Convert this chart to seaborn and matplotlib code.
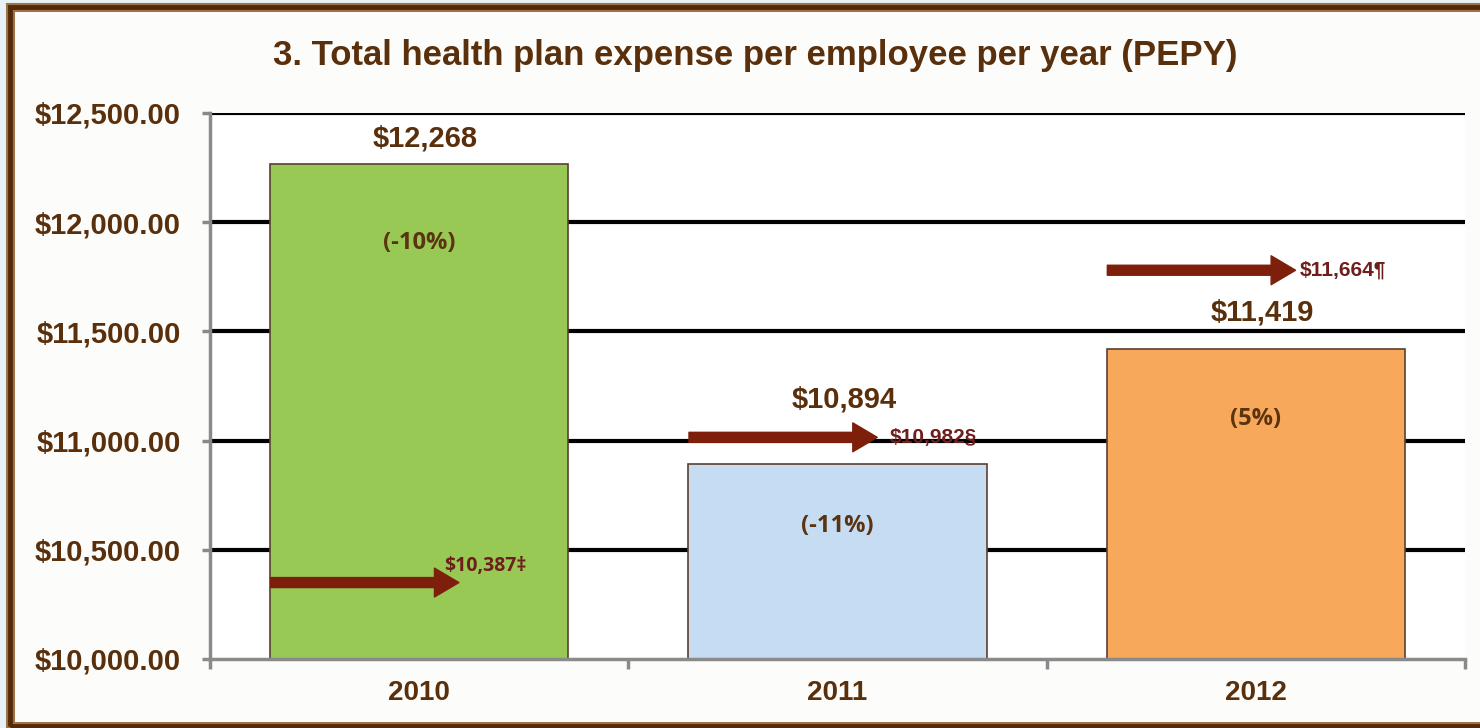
import matplotlib
matplotlib.use("Agg")
import matplotlib.pyplot as plt
from matplotlib.patches import Rectangle
import seaborn as sns
import pandas as pd

# ---------------- data ----------------
years = ["2010", "2011", "2012"]
pepy = [12268, 10894, 11419]
pct_change = ["(-10%)", "(-11%)", "(5%)"]
benchmark_labels = ["$10,387\u2021", "$10,982\u00a7", "$11,664\u00b6"]
arrow_levels = [10350, 11015, 11780]
y_ticks = [10000, 10500, 11000, 11500, 12000, 12500]

bar_colors = ["#98c954", "#c6dcf2", "#f8a85a"]
brown = "#5a2f0c"
maroon = "#6e1e1c"
arrow_col = "#7e1f0c"

df = pd.DataFrame({"year": years, "pepy": pepy})

sns.set_theme(style="white")
plt.rcParams["font.family"] = ["Liberation Sans", "DejaVu Sans"]

fig = plt.figure(figsize=(14.8, 7.28), dpi=100)
fig.patch.set_facecolor("#e6f2f6")

# outer frame
frame = Rectangle((10 / 1480, 1 - 726 / 728), 1.2, 719 / 728,
                  transform=fig.transFigure, facecolor="#fcfdfb",
                  edgecolor="#9c7246", linewidth=6.5, zorder=-2)
fig.patches.append(frame)
frame2 = Rectangle((10 / 1480, 1 - 726 / 728), 1.2, 719 / 728,
                   transform=fig.transFigure, facecolor="none",
                   edgecolor="#552a08", linewidth=3.5, zorder=-1)
fig.patches.append(frame2)

ax = fig.add_axes([210 / 1480, 1 - 659 / 728, (1465 - 210) / 1480, (659 - 113) / 728])
ax.set_zorder(1)
ax.set_facecolor("white")

sns.barplot(data=df, x="year", y="pepy", hue="year", palette=bar_colors,
            saturation=1, legend=False, width=0.713, edgecolor="#5b4030",
            linewidth=1.2, ax=ax, zorder=3)

ax.set_ylim(10000, 12500)
ax.set_xlim(-0.5, 2.5)
ax.set_yticks(y_ticks)
ax.set_yticklabels([f"${v:,.2f}" for v in y_ticks])
ax.set_xlabel("")
ax.set_ylabel("")

# grid lines
for v in y_ticks[1:]:
    ax.axhline(v, color="black", linewidth=3, zorder=1)

for s in ["top", "right"]:
    ax.spines[s].set_visible(False)
for s in ["left", "bottom"]:
    ax.spines[s].set_color("#8a8a8a")
    ax.spines[s].set_linewidth(2.5)
    ax.spines[s].set_zorder(4)

ax.tick_params(axis="y", which="major", direction="out", length=6, width=2.5,
               color="#8a8a8a", pad=15, labelsize=21, labelcolor=brown, left=True)
ax.tick_params(axis="x", which="major", length=0, pad=15, labelsize=20,
               labelcolor=brown, bottom=True)
ax.set_xticks([-0.5, 0.5, 1.5, 2.5], minor=True)
ax.tick_params(axis="x", which="minor", direction="out", length=7.5, width=2.5,
               color="#8a8a8a", bottom=True)
for lbl in ax.get_yticklabels() + ax.get_xticklabels():
    lbl.set_fontweight("bold")

# value labels
value_offsets = [18, 46, 26]
pct_offsets = [-57, -45, -50]
for i, (v, p) in enumerate(zip(pepy, pct_change)):
    ax.annotate(f"${v:,}", (i + 0.015, v), xytext=(0, value_offsets[i]),
                textcoords="offset points", ha="center", va="center",
                fontsize=21, fontweight="bold", color=brown, zorder=6)
    ax.annotate(p, (i, v), xytext=(0, pct_offsets[i]), textcoords="offset points",
                ha="center", va="center", fontsize=17, fontweight="bold",
                color="#5a3410", family=["Open Sans", "DejaVu Sans"], zorder=6)

# benchmark arrows
label_offsets = [(-11, 12), (9, 0), (3, 0)]
for i, (lv, lab) in enumerate(zip(arrow_levels, benchmark_labels)):
    ax.annotate("", xy=(i + 0.095, lv), xytext=(i - 0.355, lv),
                arrowprops=dict(arrowstyle="simple,head_length=1.1,head_width=1.3,tail_width=0.45",
                                color=arrow_col, shrinkA=0, shrinkB=0, mutation_scale=16),
                zorder=7)
    ax.annotate(lab, (i + 0.095, lv), xytext=label_offsets[i], textcoords="offset points",
                ha="left", va="center", fontsize=14 if i == 0 else 15,
                fontweight="bold", color=maroon,
                family=["Open Sans", "DejaVu Sans"] if i == 0 else ["Liberation Sans", "DejaVu Sans"],
                zorder=7)

fig.text(755 / 1480, 1 - 56 / 728,
         "3. Total health plan expense per employee per year (PEPY)",
         ha="center", va="center", fontsize=25, fontweight="bold", color=brown)

fig.savefig("out.png", dpi=100, facecolor=fig.get_facecolor())
